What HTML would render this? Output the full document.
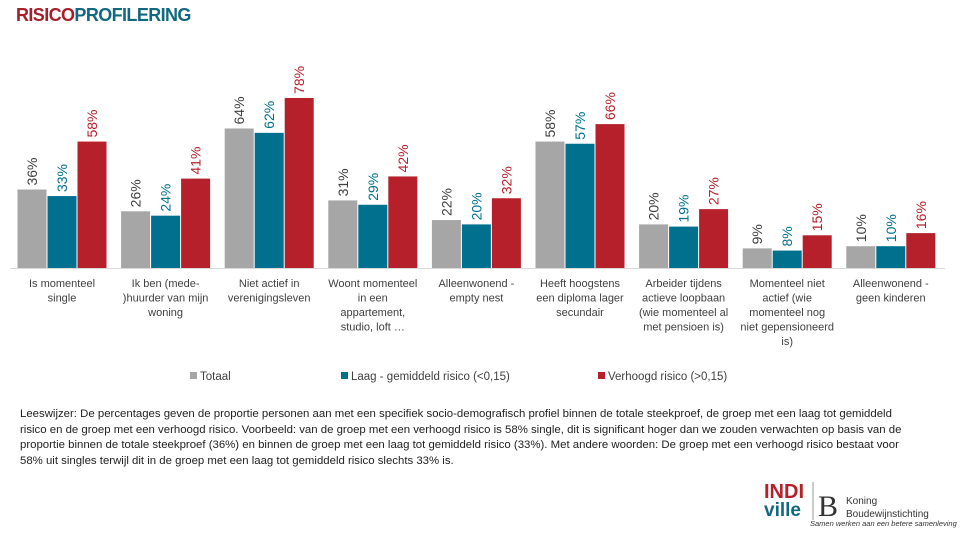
<!DOCTYPE html>
<html><head><meta charset="utf-8">
<style>
body{margin:0;width:960px;height:540px;background:#fff;overflow:hidden;font-family:"Liberation Sans",sans-serif;position:relative}
.title{position:absolute;left:16px;top:5px;font-size:18px;font-weight:bold;letter-spacing:-0.6px}
.note{position:absolute;left:20px;top:407px;width:885px;font-size:11.4px;line-height:15.6px;color:#222}
</style></head><body>
<div class="title"><span style="color:#a5202b">RISICO</span><span style="color:#12687f">PROFILERING</span></div>
<svg id="chart" width="960" height="400" style="position:absolute;left:0;top:0"></svg>
<div class="note">Leeswijzer: De percentages geven de proportie personen aan met een specifiek socio-demografisch profiel binnen de totale steekproef, de groep met een laag tot gemiddeld risico en de groep met een verhoogd risico. Voorbeeld: van de groep met een verhoogd risico is 58% single, dit is significant hoger dan we zouden verwachten op basis van de proportie binnen de totale steekproef (36%) en binnen de groep met een laag tot gemiddeld risico (33%). Met andere woorden: De groep met een verhoogd risico bestaat voor 58% uit singles terwijl dit in de groep met een laag tot gemiddeld risico slechts 33% is.</div>
<svg width="200" height="60" style="position:absolute;left:758px;top:476px">
<text x="6" y="22" font-size="20" font-weight="bold" fill="#b5202a" font-family="Liberation Sans">INDI</text>
<text x="6" y="40" font-size="19" font-weight="bold" fill="#12687f" font-family="Liberation Sans">ville</text>
<line x1="55" y1="6" x2="55" y2="44" stroke="#999"/>
<text x="60" y="40" font-size="30" fill="#333" font-family="Liberation Serif">B</text>
<text x="88" y="28" font-size="10" fill="#333">Koning</text>
<text x="88" y="41" font-size="10" fill="#333">Boudewijnstichting</text>
<text x="52" y="50" font-size="7.5" fill="#333" font-style="italic">Samen werken aan een betere samenleving</text>
</svg>
<script>
const categories=[["Is momenteel","single"],["Ik ben (mede-",")huurder van mijn","woning"],["Niet actief in","verenigingsleven"],["Woont momenteel","in een","appartement,","studio, loft …"],["Alleenwonend -","empty nest"],["Heeft hoogstens","een diploma lager","secundair"],["Arbeider tijdens","actieve loopbaan","(wie momenteel al","met pensioen is)"],["Momenteel niet","actief (wie","momenteel nog","niet gepensioneerd","is)"],["Alleenwonend -","geen kinderen"]];
const totaal=[36,26,64,31,22,58,20,9,10];
const laag=[33,24,62,29,20,57,19,8,10];
const verhoogd=[58,41,78,42,32,66,27,15,16];
const seriesNames=["Totaal","Laag - gemiddeld risico (<0,15)","Verhoogd risico (>0,15)"];
const ns="http://www.w3.org/2000/svg";
const svg=document.getElementById("chart");
const base=268, scale=2.18, x0=62, step=103.6, bw=29;
const fills=["#a6a6a6","#00708f","#b5202a"], tcol=["#404040","#00708f","#b5202a"];
const y=v=>base-v*scale, xc=i=>x0+i*step;
function mk(t,a){const e=document.createElementNS(ns,t);for(const k in a)e.setAttribute(k,a[k]);svg.appendChild(e);return e;}
const ax=mk("line",{x1:10,x2:945,y1:base+0.5,y2:base+0.5,stroke:"#d9d9d9"});


const data=[totaal,laag,verhoogd];
categories.forEach((c,i)=>{
 data.forEach((s,j)=>{
  const cx=xc(i)+(j-1)*30;
  const r=mk("rect",{x:cx-bw/2,y:y(s[i]),width:bw,height:s[i]*scale,fill:fills[j]});
  
  
  const t=mk("text",{x:0,y:0,transform:`translate(${cx+5},${y(s[i])-4}) rotate(-90)`,"font-size":"14",fill:tcol[j],"font-family":"Liberation Sans"});
  t.textContent=s[i]+"%";
  
  
 });
 c.forEach((ln,k)=>{
  const t=mk("text",{x:xc(i),y:287+k*14.5,"text-anchor":"middle","font-size":"11",fill:"#404040"});
  t.textContent=ln;
  
  
 });
});
const lx=[190,341,598];
seriesNames.forEach((n,j)=>{
 const r=mk("rect",{x:lx[j],y:372,width:7,height:7,fill:fills[j]});
 
 
 const t=mk("text",{x:lx[j]+10,y:380,"font-size":"11.5",fill:"#404040"});
 t.textContent=n;
 
 
});
</script>
</body></html>
